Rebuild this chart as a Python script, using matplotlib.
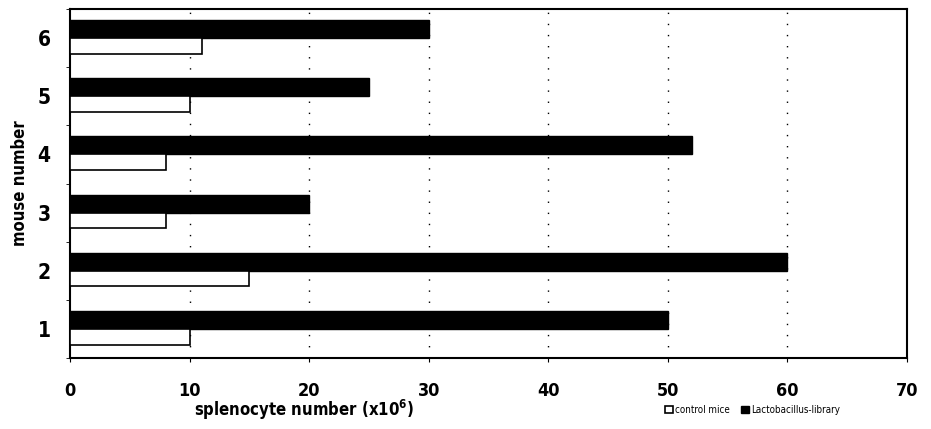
import matplotlib
matplotlib.use("Agg")
import matplotlib.pyplot as plt
import numpy as np

mice = [1, 2, 3, 4, 5, 6]
control = [10, 15, 8, 8, 10, 11]
library = [50, 60, 20, 52, 25, 30]
xticks = [0, 10, 20, 30, 40, 50, 60, 70]
legend_labels = ["control mice", "Lactobacillus-library"]

plt.rcParams['font.family'] = ['DejaVu Sans']
plt.rcParams['font.stretch'] = 'condensed'

fig = plt.figure(figsize=(9.31, 4.29), dpi=100)
ax = fig.add_axes([0.0752, 0.1655, 0.8988, 0.8135])

y = np.array(mice, dtype=float)
hb = 0.31
hw = 0.27
ax.barh(y + hb / 2, library, height=hb, color='black', edgecolor='black', lw=1, label=legend_labels[1], zorder=3)
ax.barh(y - hw / 2, control, height=hw, color='white', edgecolor='black', lw=1.2, label=legend_labels[0], zorder=3)

ax.set_xlim(0, 70)
ax.set_ylim(0.5, 6.5)
for xv in xticks[1:-1]:
    ax.axvline(xv, color='black', lw=1, linestyle=(0, (1, 7)), zorder=1)

ax.set_xticks(xticks)
ax.set_xticklabels([str(v) for v in xticks], fontsize=13, fontweight='bold', fontstretch='condensed')
ax.set_yticks(mice)
ax.set_yticklabels([str(m) for m in mice], fontsize=15, fontweight='bold', fontstretch='condensed')
ax.set_yticks(np.arange(0.5, 6.6, 1.0), minor=True)
ax.tick_params(axis='y', which='major', length=0, pad=14)
ax.tick_params(axis='y', which='minor', length=3, direction='out')
ax.tick_params(axis='x', which='major', length=3, direction='out', pad=14)

for s in ax.spines.values():
    s.set_linewidth(1.5)
    s.set_color('black')

ax.set_xlabel(r"splenocyte number (x10$^{\mathbf{6}}$)", fontsize=12, fontweight='bold',
              fontstretch='condensed', labelpad=0)
ax.xaxis.set_label_coords(0.28, -0.115)
ax.set_ylabel("mouse number", fontsize=12, fontweight='bold', fontstretch='condensed', labelpad=6)

handles, labels = ax.get_legend_handles_labels()
leg = fig.legend([handles[1], handles[0]], [labels[1], labels[0]], loc='center left',
                 bbox_to_anchor=(0.705, 0.045), ncol=2, frameon=False,
                 prop={'size': 7, 'stretch': 'condensed'},
                 handlelength=0.8, handleheight=0.8, handletextpad=0.2, columnspacing=1.2)

fig.savefig("out.png", dpi=100, facecolor='white')
